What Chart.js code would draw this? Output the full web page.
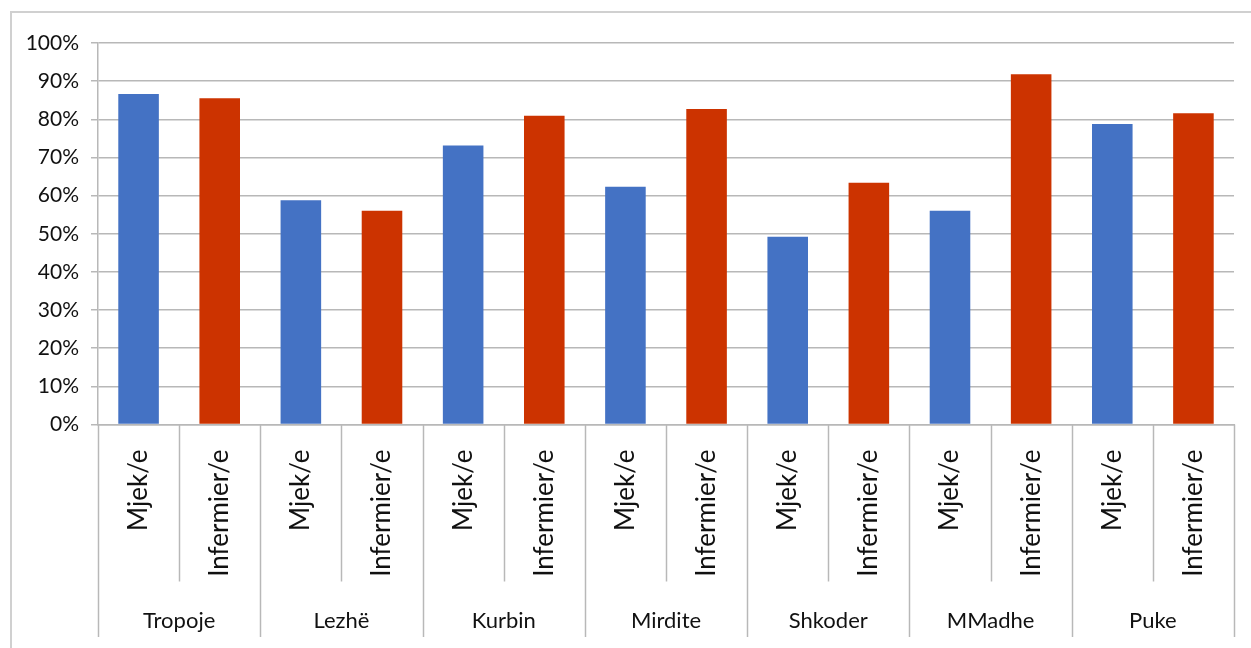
<!DOCTYPE html>
<html>
<head>
<meta charset="utf-8">
<script src="https://cdn.jsdelivr.net/npm/chart.js@4/dist/chart.umd.min.js"></script>
<style>
  html, body { margin: 0; padding: 0; background: #fff; overflow: hidden; }
  #frame { position: absolute; left: 10px; top: 11px; width: 1260px; height: 660px; border: 2px solid #d0d0d0; box-sizing: border-box; }
  #wrap { position: absolute; left: 0; top: 0; width: 1251px; height: 648px; }
</style>
</head>
<body>
<div id="frame"></div>
<div id="wrap"><canvas id="chart"></canvas></div>
<script>
// groups and the two staff types inside each group
const groups = ['Tropoje', 'Lezhë', 'Kurbin', 'Mirdite', 'Shkoder', 'MMadhe', 'Puke'];
const roles = ['Mjek/e', 'Infermier/e'];
// share per group (0..1)
const mjekValues = [0.866, 0.588, 0.731, 0.623, 0.492, 0.560, 0.788];
const infermierValues = [0.855, 0.560, 0.809, 0.827, 0.634, 0.918, 0.816];
const yTicks = [0, 0.1, 0.2, 0.3, 0.4, 0.5, 0.6, 0.7, 0.8, 0.9, 1];

const BLUE = '#4472C4';
const RED = '#CC3300';
const GRID = '#b8b8b8';
const FONT = 'Lato, "Open Sans", sans-serif';

const labels = [];
const values = [];
const colors = [];
groups.forEach((g, i) => {
  labels.push(roles[0], roles[1]);
  values.push(mjekValues[i], infermierValues[i]);
  colors.push(BLUE, RED);
});

// divider lines under the axis, between every bar and longer between groups
const dividers = {
  id: 'dividers',
  afterDraw(chart) {
    const x = chart.scales.x;
    const x2 = chart.scales.x2;
    const ctx = chart.ctx;
    const n = labels.length;
    ctx.save();
    ctx.strokeStyle = GRID;
    ctx.lineWidth = 1.5;
    for (let i = 0; i <= n; i++) {
      let px;
      if (i === 0) px = x.left;
      else if (i === n) px = x.right;
      else px = (x.getPixelForValue(i - 1) + x.getPixelForValue(i)) / 2;
      const bottom = i % 2 === 0 ? x2.bottom - 11 : x.bottom + 2;
      ctx.beginPath();
      ctx.moveTo(Math.round(px) + 0.5, x.top);
      ctx.lineTo(Math.round(px) + 0.5, bottom);
      ctx.stroke();
    }
    ctx.restore();
  }
};

new Chart(document.getElementById('chart'), {
  type: 'bar',
  data: {
    labels,
    datasets: [{
      data: values,
      backgroundColor: colors,
      barPercentage: 0.5,
      categoryPercentage: 1.0,
    }],
  },
  options: {
    responsive: true,
    maintainAspectRatio: false,
    animation: false,
    layout: { padding: { top: 43, right: 17, bottom: 0, left: 0 } },
    plugins: { legend: { display: false }, tooltip: { enabled: false } },
    scales: {
      y: {
        min: 0,
        max: 1,
        afterFit: s => { s.width = 98; },
        afterBuildTicks: s => { s.ticks = yTicks.map(v => ({ value: v })); },
        grid: { color: GRID, lineWidth: 1.5, tickLength: 7 },
        border: { display: true, color: GRID, width: 1.5 },
        ticks: {
          padding: 12,
          color: '#111',
          font: { family: FONT, size: 21 },
          callback: v => Math.round(v * 100) + '%',
        },
      },
      x: {
        afterFit: s => { s.height = 155; },
        grid: { display: false },
        border: { display: true, color: GRID, width: 1.5 },
        ticks: {
          autoSkip: false,
          minRotation: 90,
          maxRotation: 90,
          padding: 17,
          color: '#111',
          font: { family: FONT, size: 26 },
        },
      },
      x2: {
        type: 'category',
        position: 'bottom',
        labels: groups,
        offset: true,
        afterFit: s => { s.height = 68.5; },
        grid: { display: false },
        border: { display: false },
        ticks: {
          padding: 20,
          color: '#111',
          font: { family: FONT, size: 22 },
        },
      },
    },
  },
  plugins: [dividers],
});
</script>
</body>
</html>
